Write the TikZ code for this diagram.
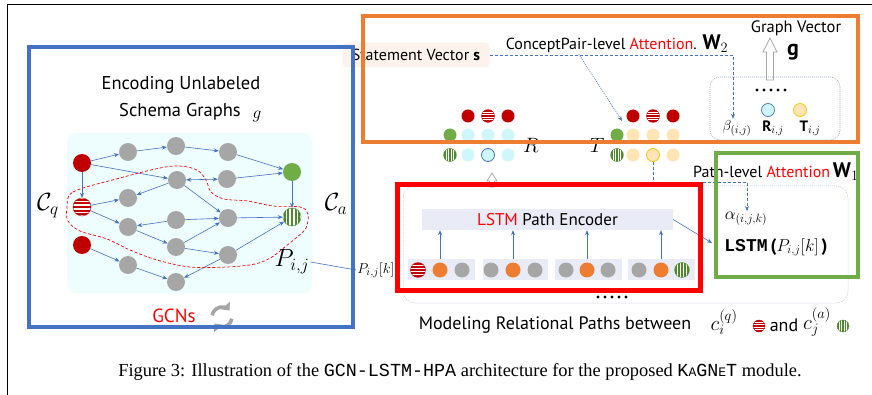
\documentclass[tikz,border=0pt]{standalone}
\usepackage{fontspec}
\setmainfont{PT Sans}
\newfontfamily\capfont{Liberation Serif}
\newfontfamily\capmono{Liberation Mono}
\usetikzlibrary{arrows.meta,calc}
\definecolor{boxblue}{HTML}{4472C4}
\definecolor{boxorange}{HTML}{ED7D31}
\definecolor{boxgreen}{HTML}{70AD47}
\definecolor{darkred}{HTML}{C00000}
\definecolor{nodegray}{HTML}{A6A6A6}
\definecolor{stripegreen}{HTML}{4F8A2E}
\definecolor{edgeblue}{HTML}{4472C4}
\definecolor{panelcyan}{HTML}{EEFDFD}
\definecolor{cyanc}{HTML}{CFF6FA}
\definecolor{peachc}{HTML}{FFE5B4}
\definecolor{yellowo}{HTML}{FFC000}
\definecolor{lavender}{HTML}{E9ECF6}
\definecolor{peachbg}{HTML}{FDF3EC}
\definecolor{dotgray}{HTML}{9AA8C8}
\definecolor{icongray}{HTML}{A5A5A5}
\tikzset{
 gn/.style={circle, fill=nodegray, minimum size=18pt, inner sep=0pt},
 rn/.style={gn, fill=darkred},
 grn/.style={gn, fill=boxgreen},
 hs/.style={circle, draw=darkred, line width=0.4pt, fill=white, inner sep=0pt,
   path picture={\foreach \k in {-4,...,4}{\fill[darkred] ([xshift=-12pt,yshift=\k*#1-0.3*#1]path picture bounding box.center) rectangle ([xshift=12pt,yshift=\k*#1+0.3*#1]path picture bounding box.center);}}},
 vs/.style={circle, draw=stripegreen, line width=0.4pt, fill=white, inner sep=0pt,
   path picture={\foreach \k in {-4,...,4}{\fill[stripegreen] ([yshift=-12pt,xshift=\k*#1-0.3*#1]path picture bounding box.center) rectangle ([yshift=12pt,xshift=\k*#1+0.3*#1]path picture bounding box.center);}}},
 sc/.style={circle, inner sep=0pt, minimum size=13pt},
 pc/.style={circle, inner sep=0pt, minimum size=15pt},
 gedge/.style={draw=edgeblue, line width=0.6pt, -{Stealth[length=5pt,width=4pt]}},
 dline/.style={draw=edgeblue, line width=0.7pt, dash pattern=on 3pt off 2pt},
 dotline/.style={draw=edgeblue, line width=0.6pt, dash pattern=on 1pt off 1pt},
 lbl/.style={inner sep=1pt},
 hollow/.style={draw=gray!70, fill=white, line width=0.8pt},
 pathbox/.style={fill=lavender, minimum height=21pt, inner sep=0pt},
}
\begin{document}
\begin{tikzpicture}[x=1pt,y=-1pt]
\useasboundingbox (0,0) rectangle (872,395);
\fill[white] (0,0) rectangle (872,395);
\draw[line width=1pt] (7,395) -- (7,5) -- (872,5);

% ---------- left part: schema graph ----------
\node[font=\fontsize{18.5}{20}\selectfont] (t1) at (181,85) {Encoding Unlabeled};
\node[font=\fontsize{18.5}{20}\selectfont] (t2) at (180,112) {Schema Graphs};
\node[font=\fontsize{19}{20}\selectfont] (t3) at (257,116) {$g$};
\fill[panelcyan, rounded corners=9pt] (67,133) rectangle (312,293);

\node[rn] (r1) at (82,163) {};
\node[gn] (a1) at (128,152) {};
\node[gn] (a2) at (176,146) {};
\node[gn] (a3) at (228,152) {};
\node[grn] (gA) at (292,172) {};
\node[gn] (b1) at (177,180) {};
\node[gn] (b2) at (227,179) {};
\node[hs=3.6pt, minimum size=18pt] (cq) at (82,207) {};
\node[gn] (c1) at (128,198) {};
\node[gn] (d1) at (128,227) {};
\node[gn] (d2) at (176,220) {};
\node[gn] (d3) at (228,218) {};
\node[vs=3.6pt, minimum size=18pt] (ca) at (292,217) {};
\node[gn] (e1) at (176,247) {};
\node[gn] (e2) at (228,255) {};
\node[rn] (r2) at (82,245) {};
\node[gn] (f1) at (128,265) {};
\node[gn] (f2) at (176,282) {};

\draw[gedge] (r1) -- (a1);
\draw[gedge] (a1) -- (a2);
\draw[gedge] (a2) -- (a3);
\draw[gedge] (a3) -- (gA);
\draw[gedge] (r1) -- (b1);
\draw[draw=edgeblue, line width=0.6pt, {Stealth[length=5pt,width=4pt]}-{Stealth[length=5pt,width=4pt]}] (b1) -- (b2);
\draw[gedge] (b2) -- (gA);
\draw[gedge] (r1) -- (cq);
\draw[gedge] (gA) -- (ca);
\draw[gedge] (cq) -- (c1);
\draw[gedge] (b1) -- (c1);
\draw[gedge] (cq) -- (d1);
\draw[gedge] (b1) -- (d3);
\draw[gedge] (d2) -- (d1);
\draw[gedge] (d2) -- (d3);
\draw[gedge] (d3) -- (ca);
\draw[gedge] (d1) -- (e1);
\draw[gedge] (e1) -- (d3);
\draw[gedge] (e1) -- (e2);
\draw[gedge] (e2) -- (ca);
\draw[gedge] (r2) -- (f1);
\draw[gedge] (f1) -- (f2);
\draw[gedge] (e2) -- (f2);

\draw[red, line width=0.7pt, dash pattern=on 3pt off 2pt] plot[smooth cycle, tension=0.55] coordinates {
 (67,208) (73,192) (120,178) (160,168) (180,166) (197,170) (206,180) (211,192) (224,199)
 (248,201) (273,206) (300,207) (308,214) (306,228) (296,238) (286,246) (272,257) (255,264)
 (227,267) (190,267) (157,260) (130,250) (107,239) (80,231) (68,221)};

\node[font=\fontsize{24}{26}\selectfont] (Cq) at (48,206) {$\mathcal{C}_q$};
\node[font=\fontsize{24}{26}\selectfont] (Ca) at (336,204) {$\mathcal{C}_a$};
\node[font=\fontsize{23}{25}\selectfont, lbl] (pij) at (292,262) {$P_{i,j}$};
\node[font=\fontsize{15.5}{17}\selectfont, lbl] (pijk) at (376,270) {$P_{i,j}[k]$};
\draw[gedge, -{Stealth[length=3pt,width=3pt]}] (pij.east) -- (pijk.west);

\node[font=\fontsize{19}{21}\selectfont, text=red] (gcn) at (174,316) {GCNs};
\coordinate (ic) at (222,317);
\draw[icongray, line width=3.6pt, -{Triangle[length=6.5pt,width=11pt]}] ([shift={(170:10pt)}]ic) arc[start angle=170, end angle=40, radius=10pt];
\draw[icongray, line width=3.6pt, -{Triangle[length=6.5pt,width=11pt]}] ([shift={(350:10pt)}]ic) arc[start angle=350, end angle=220, radius=10pt];

% ---------- upper right: concept-pair attention ----------
\node[fill=peachbg, rounded corners=4pt, minimum width=147pt, minimum height=25pt, font=\fontsize{16}{18}\selectfont] (sv) at (416,55) {Statement Vector $\mathbf{s}$};
\node[font=\fontsize{16}{18}\selectfont, lbl] (cp) at (617,44) {ConceptPair-level \textcolor{red}{Attention}. {\fontsize{21}{22}\selectfont$\mathbf{W}_2$}};
\node[font=\fontsize{16.5}{18}\selectfont] (gv) at (796,28) {Graph Vector};
\node[font=\fontsize{22}{24}\selectfont] (gvec) at (793,52) {$\mathbf{g}$};
\draw[hollow] (766.5,80) -- (766.5,52) -- (763,52) -- (770,38) -- (777,52) -- (773.5,52) -- (773.5,80) -- cycle;

\draw[dotgray, line width=0.6pt, dash pattern=on 1pt off 1pt, rounded corners=10pt] (710,77) rectangle (840,140);
\foreach \i in {0,...,4} \fill (757+\i*7,90) circle (1.7pt);
\node[sc, fill=cyanc, draw=edgeblue, line width=0.7pt] (Rc) at (768,110) {};
\node[sc, fill=peachc, draw=yellowo, line width=0.7pt] (Tc) at (800,110) {};
\node[font=\fontsize{15}{16}\selectfont, lbl] (bij) at (737,128) {$\beta_{(i,j)}$};
\node[font=\fontsize{15}{16}\selectfont, lbl] (rij) at (773,128) {$\mathbf{R}_{i,j}$};
\node[font=\fontsize{15}{16}\selectfont, lbl] (tij) at (810,128) {$\mathbf{T}_{i,j}$};
\coordinate (bk) at (733,55);
\draw[dline, -{Stealth[length=5pt,width=4pt]}] (sv.east) -- (bk) -- (bk |- bij.north);

% R cluster
\node[sc, fill=darkred] (r11) at (468,116) {};
\node[sc, hs=2.6pt] (r12) at (488,116) {};
\node[sc, fill=darkred] (r13) at (508,116) {};
\node[sc, fill=boxgreen] (r21) at (450,135) {};
\node[sc, fill=cyanc] (r22) at (468,135) {};
\node[sc, fill=cyanc] (r23) at (488,135) {};
\node[sc, fill=cyanc] (r24) at (508,135) {};
\node[sc, vs=2.6pt] (r31) at (450,155) {};
\node[sc, fill=cyanc] (r32) at (468,155) {};
\node[sc, fill=cyanc, draw=edgeblue, line width=0.8pt] (rsel) at (488,155) {};
\node[sc, fill=cyanc] (r34) at (508,155) {};
\node[font=\fontsize{20}{22}\selectfont] (Rl) at (531,145) {$R$};
% T cluster
\node[sc, fill=darkred] (t11) at (633,116) {};
\node[sc, hs=2.6pt] (t12) at (653,116) {};
\node[sc, fill=darkred] (t13) at (673,116) {};
\node[sc, fill=boxgreen] (t21) at (617,135) {};
\node[sc, fill=peachc] (t22) at (633,135) {};
\node[sc, fill=peachc] (t23) at (653,135) {};
\node[sc, fill=peachc] (t24) at (673,135) {};
\node[sc, vs=2.6pt] (t31) at (617,155) {};
\node[sc, fill=peachc] (t32) at (633,155) {};
\node[sc, fill=peachc, draw=yellowo, line width=0.8pt] (tsel) at (653,155) {};
\node[sc, fill=peachc] (t34) at (673,155) {};
\node[font=\fontsize{20}{22}\selectfont] (Tl) at (597,145) {$T$};

\coordinate (cpt) at (622,121);
\draw[dotline, -{Stealth[length=5pt,width=4pt]}] ($(cp.south west)!0.33!(cp.south east)$) -- (cpt);

% ---------- lower right: path encoder ----------
\draw[dotgray!70, line width=0.5pt, dash pattern=on 1pt off 1pt, rounded corners=12pt] (403,186) rectangle (848,303);
\draw[hollow] (489.5,187) -- (489.5,181) -- (487,181) -- (492,173) -- (497,181) -- (494.5,181) -- (494.5,187) -- cycle;

\node[pathbox, minimum width=251pt, font=\fontsize{17}{19}\selectfont] (enc) at (547.5,219.5) {\textcolor{red}{LSTM} Path Encoder};
\node[pathbox, minimum width=67pt] (g1) at (441.5,269.5) {};
\node[pathbox, minimum width=65pt] (g2) at (515.5,269.5) {};
\node[pathbox, minimum width=67pt] (g3) at (588.5,269.5) {};
\node[pathbox, minimum width=67pt] (g4) at (661.5,269.5) {};
\node[pc, hs=3pt] (p11) at (418,270) {};
\node[pc, fill=boxorange] (o1) at (440,270) {};
\node[pc, fill=nodegray] (p13) at (462,270) {};
\node[pc, fill=nodegray] (p21) at (491,270) {};
\node[pc, fill=boxorange] (o2) at (513,270) {};
\node[pc, fill=nodegray] (p23) at (535,270) {};
\node[pc, fill=nodegray] (p31) at (566,270) {};
\node[pc, fill=boxorange] (o3) at (587,270) {};
\node[pc, fill=nodegray] (p33) at (608,270) {};
\node[pc, fill=nodegray] (p41) at (639,270) {};
\node[pc, fill=boxorange] (o4) at (661,270) {};
\node[pc, vs=3pt] (p43) at (682,270) {};
\draw[gedge] (o1 |- g1.north) -- (o1 |- enc.south);
\draw[gedge] (o2 |- g2.north) -- (o2 |- enc.south);
\draw[gedge] (o3 |- g3.north) -- (o3 |- enc.south);
\draw[gedge] (o4 |- g4.north) -- (o4 |- enc.south);
\foreach \i in {0,...,4} \fill (598+\i*7,297) circle (1.7pt);

\node[font=\fontsize{18}{20}\selectfont, lbl] (alpha) at (746,219) {$\alpha_{(i,j,k)}$};
\node[font=\fontsize{18}{20}\selectfont, lbl] (lstm) at (776,247) {{\capmono\bfseries LSTM}\,\textbf{(}$P_{i,j}[k]$\,\textbf{)}};
\draw[gedge] (enc.east) -- (712,243);
\node[font=\fontsize{16}{18}\selectfont, lbl, anchor=west] (pla) at (692,172) {Path-level \textcolor{red}{Attention}\,{\fontsize{21}{22}\selectfont$\mathbf{W}_1$}};
\coordinate (pk) at (747,182);
\draw[dline, -{Stealth[length=5pt,width=4pt]}] (tsel.south) |- (pk) -- (pk |- alpha.north);

\node[font=\fontsize{18}{20}\selectfont] (mod) at (555,325) {Modeling Relational Paths between};
\node[font=\fontsize{20}{22}\selectfont] (ciq) at (724,322) {$c_i^{(q)}$};
\node[sc, hs=2.6pt, minimum size=12pt] (iq) at (759,326) {};
\node[font=\fontsize{18}{20}\selectfont] (and) at (784,325) {and};
\node[font=\fontsize{20}{22}\selectfont] (cja) at (817,322) {$c_j^{(a)}$};
\node[sc, vs=2.6pt, minimum size=12pt] (ia) at (843,326) {};

% ---------- caption ----------
\node[font=\capfont\fontsize{18.4}{21}\selectfont] (cap) at (460,372) {Figure 3: Illustration of the {\capmono GCN-LSTM-HPA} architecture for the proposed {\capmono K{\fontsize{13}{15}\selectfont A}GN{\fontsize{13}{15}\selectfont E}T} module.};

% ---------- colored frames (on top) ----------
\draw[line width=4.5pt, boxblue] (29,47) rectangle (353,327);
\draw[line width=4pt, boxorange] (363,16) rectangle (858,142);
\draw[line width=5pt, red] (397,185) rectangle (700,290);
\draw[line width=4pt, boxgreen] (716,153) rectangle (858,277);
\end{tikzpicture}
\end{document}
